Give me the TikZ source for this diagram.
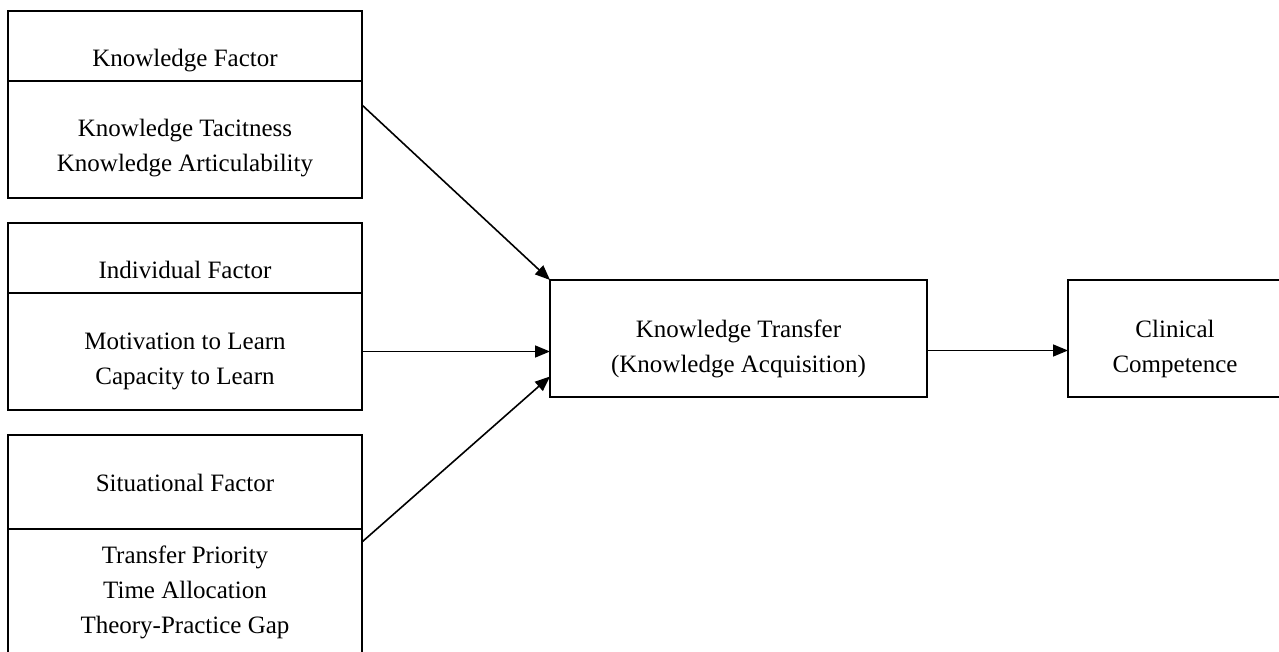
\documentclass[tikz,border=0pt]{standalone}
\usepackage{fontspec}
\setmainfont{Liberation Serif}
\usetikzlibrary{positioning}
\usetikzlibrary{arrows.meta}

\begin{document}
\begin{tikzpicture}[x=1pt, y=-1pt,
		font=\fontsize{25pt}{35pt}\selectfont,
		box/.style={draw, line width=1.6pt, outer sep=0pt, inner sep=4pt, align=center},
		head/.style={box, minimum width=354pt, minimum height=#1, text depth=3pt, text height=115pt-#1},
		body/.style={box, minimum width=354pt, minimum height=#1},
		push/.style={text height=#1, text depth=5pt},
		arrow/.style={line width=1.6pt, -{Triangle[length=15pt, width=12pt]}}]
		
		\clip (0,0) rectangle (1279,652);
		
		\node[head=70pt, anchor=north west] at (8,11) (kf) {Knowledge Factor};
		\node[body=117pt, push=70pt, below=0pt of kf] (kfb) {Knowledge Tacitness \\ Knowledge Articulability};
		\node[head=70pt, anchor=north west] at (8,223) (indf) {Individual Factor};
		\node[body=117pt, push=70pt, below=0pt of indf] (indfb) {Motivation to Learn \\ Capacity to Learn};
		\node[head=94pt, anchor=north west] at (8,435) (sf) {Situational Factor};
		\node[body=127pt, below=0pt of sf] (sfb) {Transfer Priority \\ Time Allocation \\ Theory-Practice Gap};
		
		\node[box, push=72pt, minimum width=377pt, minimum height=117pt, anchor=north west] at (550,280) (kt) {Knowledge Transfer \\ (Knowledge Acquisition)};
		\node[box, push=72pt, minimum width=214pt, minimum height=117pt, right=141pt of kt] (cc) {Clinical \\ Competence};
		
		\path
		([yshift=-24pt]kfb.north east) edge[arrow] (kt.north west)
		(indfb.east) edge[arrow] (indfb.east -| kt.west)
		([yshift=-13pt]sfb.north east) edge[arrow] ([yshift=-38pt]kt.west)
		([yshift=-12pt]kt.east) edge[arrow] ([yshift=-12pt]kt.east -| cc.west)
		;
		
\end{tikzpicture}
\end{document}
